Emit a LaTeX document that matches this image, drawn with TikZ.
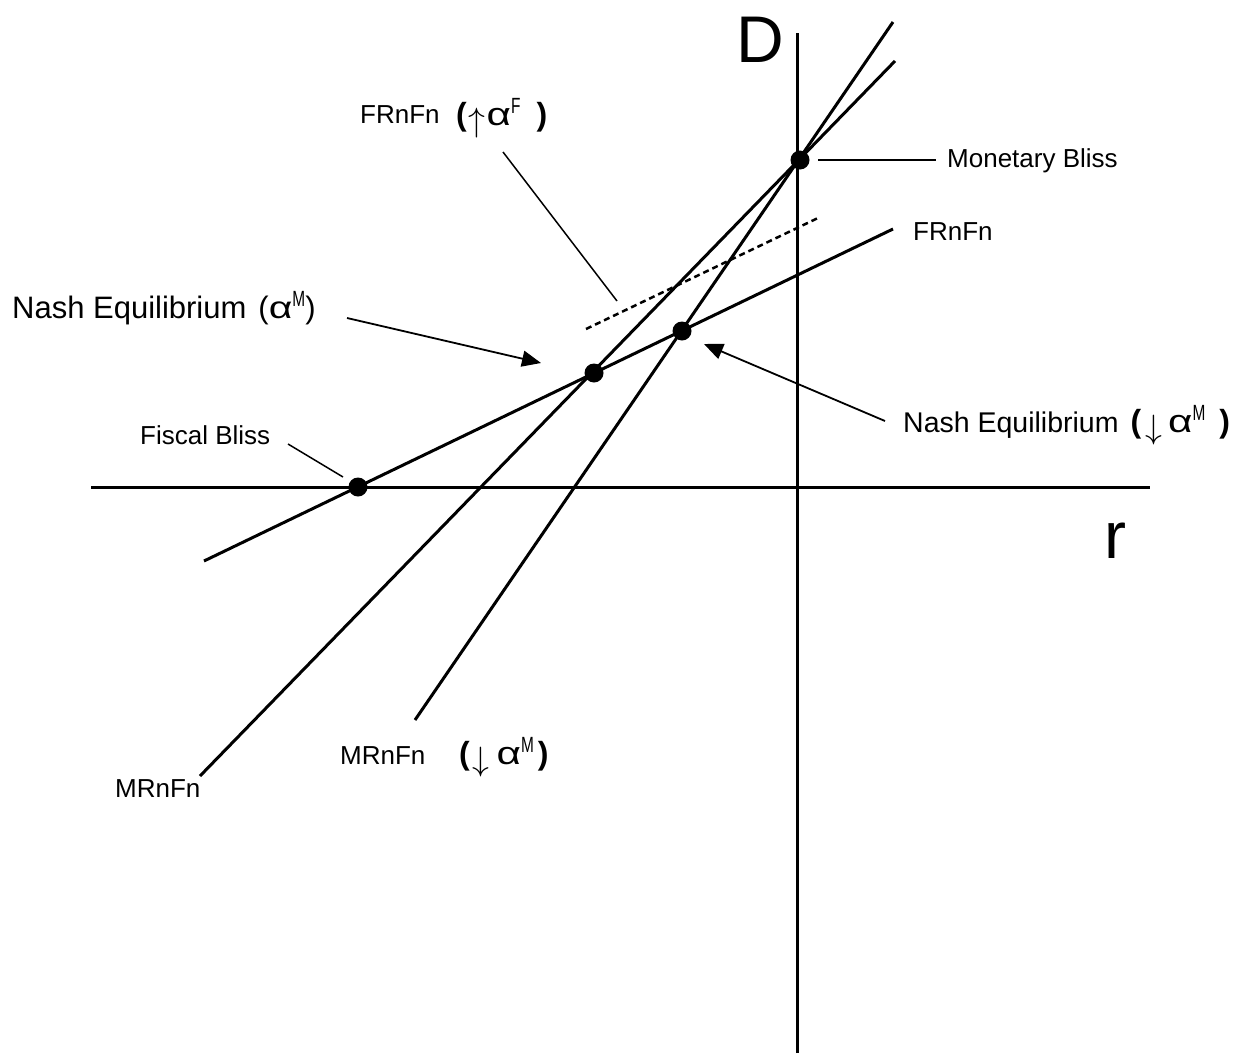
\documentclass[tikz,border=0pt]{standalone}
\usepackage{fontspec}
\usepackage{graphicx}
\setmainfont{Liberation Sans}
\usetikzlibrary{arrows.meta}
\newcommand\mysup[1]{\raisebox{0.36em}{\fontsize{22}{22}\selectfont\scalebox{0.7}[1]{#1}}}
\newcommand\galpha{\scalebox{1.32}[1]{α}}
\newcommand\lp{\textbf{(}}
\newcommand\rp{\textbf{)}}
\newcommand\uparr{\raisebox{-6.5pt}{\resizebox*{!}{30pt}{$\uparrow$}}}
\newcommand\downarr{\raisebox{-6.5pt}{\resizebox*{!}{30pt}{$\downarrow$}}}
\begin{document}
\begin{tikzpicture}[x=1pt,y=-1pt,
  axis/.style={line width=3pt},
  curve/.style={line width=3pt},
  leader/.style={line width=1.5pt},
  shifted/.style={line width=2.5pt,dash pattern=on 6pt off 4pt},
  pointer/.style={line width=1.8pt,-{Triangle[length=19pt,width=16pt]}},
  dot/.style={circle,fill=black,inner sep=0pt,minimum size=19pt},
  lbl/.style={anchor=base west,inner sep=0pt},
  small/.style={lbl,font=\fontsize{26}{26}\selectfont},
  grp/.style={lbl,font=\fontsize{32}{32}\selectfont},
  big/.style={lbl,font=\fontsize{66}{66}\selectfont}]
\useasboundingbox (0,0) rectangle (1248,1055);
% axes
\coordinate (xl) at (91,487);
\coordinate (xr) at (1150,487);
\coordinate (yt) at (797,33);
\coordinate (yb) at (797,1053);
\draw[axis] (xl) -- (xr);
\draw[axis] (yb) -- (yt);
% curves
\coordinate (frA) at (204,561);
\coordinate (frB) at (893,229);
\coordinate (mrA) at (200,776);
\coordinate (mrB) at (895,61);
\coordinate (msA) at (415,720);
\coordinate (msB) at (893,22);
\coordinate (dsA) at (586,329);
\coordinate (dsB) at (818,218);
\draw[curve] (frA) -- (frB);
\draw[curve] (mrA) -- (mrB);
\draw[curve] (msA) -- (msB);
\draw[shifted] (dsA) -- (dsB);
% points
\node[dot] (mb) at (800,160) {};
\node[dot] (n1) at (594,373) {};
\node[dot] (n2) at (682,331) {};
\node[dot] (fb) at (358,487) {};
% axis labels
\node[big] (D) at (736,62) {D};
\node[big] (r) at (1104,558) {r};
% labels
\node[small] (fbl) at (140,444) {Fiscal Bliss};
\node[small] (mbl) at (947,167) {Monetary Bliss};
\node[small] (frl) at (913,240) {FRnFn};
\node[small] (mrl) at (115,797) {MRnFn};
\node[small] (msl) at (340,764) {MRnFn};
\node[grp] (msg) at (459,764) {\lp\kern3pt\downarr\kern7pt\galpha\mysup{M}\kern4pt\rp};
\node[small] (fsl) at (360,123) {FRnFn};
\node[grp] (fsg) at (456,125) {\lp\kern2pt\uparr\kern1pt\galpha\mysup{F}\kern16pt\rp};
\node[lbl,font=\fontsize{31}{31}\selectfont] (n1l) at (12,318)
  {Nash Equilibrium\kern12pt(\galpha\mysup{M})};
\node[lbl,font=\fontsize{28.5}{28.5}\selectfont] (n2l) at (903,432)
  {Nash Equilibrium\kern12pt{\fontsize{32}{32}\selectfont\lp\kern4pt\downarr\kern6pt\galpha\mysup{M}\kern14pt\rp}};
% leaders
\coordinate (fbA) at (288,444);
\coordinate (fbB) at (343,477);
\draw[leader] (fbA) -- (fbB);
\coordinate (mbA) at (818,160);
\coordinate (mbB) at (936,160);
\draw[leader] (mbA) -- (mbB);
\coordinate (fsA) at (503,152);
\coordinate (fsB) at (617,301);
\draw[leader] (fsA) -- (fsB);
% pointers
\coordinate (p1A) at (347,318);
\coordinate (p1B) at (541,363);
\draw[pointer] (p1A) -- (p1B);
\coordinate (p2A) at (885,421);
\coordinate (p2B) at (704,344);
\draw[pointer] (p2A) -- (p2B);
\end{tikzpicture}
\end{document}
